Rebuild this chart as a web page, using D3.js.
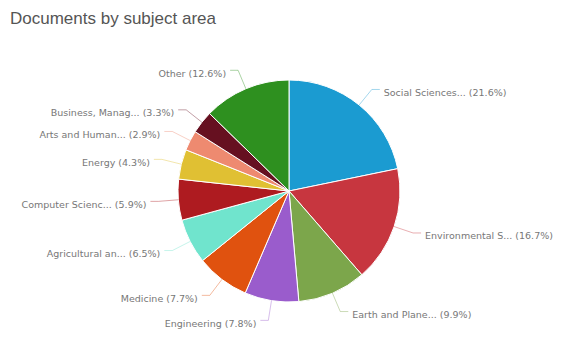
<!DOCTYPE html>
<html>
<head>
<meta charset="utf-8">
<script src="https://cdn.jsdelivr.net/npm/d3@7"></script>
<style>
  body { margin: 0; background: #fff; }
  text { font-family: "Liberation Sans", Arial, sans-serif; }
  .lbl { font-family: "DejaVu Sans", Verdana, sans-serif; }
</style>
</head>
<body>
<svg id="pie-chart" width="565" height="353"></svg>
<script>
// subject areas, clockwise from 12 o'clock
const categories = ['Social Sciences', 'Environmental Science', 'Earth and Planetary Sciences', 'Engineering',
  'Medicine', 'Agricultural and Biological Sciences', 'Computer Science', 'Energy', 'Arts and Humanities',
  'Business, Management and Accounting', 'Other'];
const shortLabels = ['Social Sciences...', 'Environmental S...', 'Earth and Plane...', 'Engineering',
  'Medicine', 'Agricultural an...', 'Computer Scienc...', 'Energy', 'Arts and Human...',
  'Business, Manag...', 'Other'];
const percents = [21.6, 16.7, 9.9, 7.8, 7.7, 6.5, 5.9, 4.3, 2.9, 3.3, 12.6];
const colors = ['#1b9bd1', '#c7363f', '#7ca64b', '#9a5ccc', '#e0520f', '#70e4cd',
  '#ae1b20', '#e0c033', '#ee8a70', '#661020', '#2e901f'];

const svg = d3.select('#pie-chart'),
  cx = 289, cy = 191, radius = 111;

svg.append('text')
  .attr('x', 10)
  .attr('y', 24)
  .attr('font-size', 17)
  .attr('fill', '#555')
  .text('Documents by subject area');

const data = categories.map(function (c, i) {
  return {name: c, label: shortLabels[i], value: percents[i], color: colors[i]};
});

const pie = d3.pie().sort(null).value(function (d) { return d.value; });
const arc = d3.arc().innerRadius(0).outerRadius(radius);

const g = svg.append('g').attr('transform', 'translate(' + cx + ',' + cy + ')');
const arcs = pie(data);

g.selectAll('path')
  .data(arcs)
  .enter().append('path')
  .attr('d', arc)
  .attr('fill', function (d) { return d.data.color; })
  .attr('stroke', '#fff')
  .attr('stroke-width', 1);

// label placement: point on a circle outside the pie, text pushed to the side
const labelR = radius + 20;
function mid(d) { return (d.startAngle + d.endAngle) / 2; }

g.selectAll('polyline')
  .data(arcs)
  .enter().append('polyline')
  .attr('points', function (d) {
    const a = mid(d), right = a < Math.PI;
    const p0 = [Math.sin(a) * radius, -Math.cos(a) * radius];
    const p1 = [Math.sin(a) * labelR, -Math.cos(a) * labelR];
    const p2 = [p1[0] + (right ? 8 : -8), p1[1]];
    return [p0, p1, p2].map(function (p) { return p.join(','); }).join(' ');
  })
  .attr('fill', 'none')
  .attr('stroke', function (d) { return d.data.color; })
  .attr('stroke-opacity', 0.4)
  .attr('stroke-width', 1);

g.selectAll('.lbl')
  .data(arcs)
  .enter().append('text')
  .attr('class', 'lbl')
  .attr('x', function (d) {
    const a = mid(d);
    return Math.sin(a) * labelR + (a < Math.PI ? 12 : -12);
  })
  .attr('y', function (d) { return -Math.cos(mid(d)) * labelR + 3; })
  .attr('dy', '0.35em')
  .attr('text-anchor', function (d) { return mid(d) < Math.PI ? 'start' : 'end'; })
  .attr('font-size', 9.5)
  .attr('fill', '#777')
  .text(function (d) { return d.data.label + ' (' + d.data.value + '%)'; });
</script>
</body>
</html>
